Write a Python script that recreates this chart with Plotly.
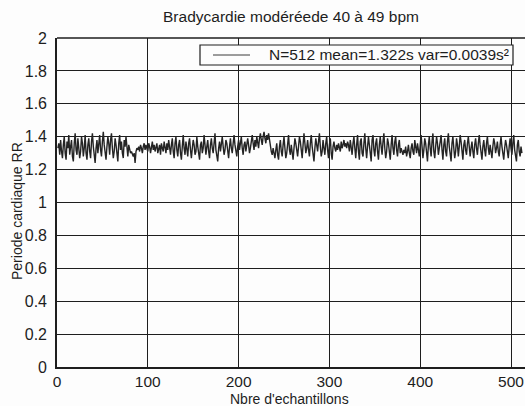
import plotly.graph_objects as go

# RR interval series (seconds), 512 beats, moderate bradycardia recording
rr_values = [
    1.33, 1.36, 1.29, 1.38, 1.31, 1.27, 1.35, 1.40, 1.30, 1.26, 1.37, 1.33, 1.41, 1.29, 1.34, 1.38,
    1.28, 1.25, 1.36, 1.42, 1.32, 1.29, 1.39, 1.34, 1.27, 1.31, 1.40, 1.36, 1.28, 1.33, 1.41, 1.30,
    1.26, 1.35, 1.39, 1.31, 1.27, 1.37, 1.42, 1.34, 1.29, 1.24, 1.33, 1.38, 1.30, 1.36, 1.41, 1.32,
    1.28, 1.37, 1.43, 1.35, 1.30, 1.26, 1.34, 1.40, 1.36, 1.29, 1.38, 1.42, 1.33, 1.27, 1.31, 1.39,
    1.35, 1.28, 1.25, 1.36, 1.41, 1.32, 1.37, 1.30, 1.27, 1.38, 1.34, 1.40, 1.31, 1.28, 1.35, 1.33,
    1.30, 1.31, 1.29, 1.28, 1.30, 1.24, 1.31, 1.33, 1.32, 1.34, 1.31, 1.35, 1.33, 1.30, 1.34, 1.36,
    1.32, 1.35, 1.33, 1.31, 1.36, 1.34, 1.30, 1.33, 1.37, 1.32, 1.35, 1.31, 1.34, 1.36, 1.30, 1.33,
    1.35, 1.29, 1.36, 1.33, 1.31, 1.37, 1.34, 1.30, 1.36, 1.32, 1.38, 1.33, 1.29, 1.35, 1.39, 1.31,
    1.27, 1.36, 1.40, 1.32, 1.28, 1.35, 1.38, 1.30, 1.26, 1.34, 1.41, 1.33, 1.29, 1.37, 1.31, 1.28,
    1.36, 1.39, 1.32, 1.27, 1.33, 1.38, 1.35, 1.29, 1.31, 1.40, 1.34, 1.28, 1.26, 1.35, 1.37, 1.30,
    1.33, 1.41, 1.36, 1.29, 1.34, 1.38, 1.31, 1.27, 1.35, 1.39, 1.33, 1.30, 1.36, 1.42, 1.32, 1.28,
    1.25, 1.33, 1.37, 1.31, 1.35, 1.40, 1.34, 1.29, 1.32, 1.38, 1.36, 1.30, 1.27, 1.34, 1.39, 1.33,
    1.30, 1.36, 1.41, 1.35, 1.31, 1.28, 1.34, 1.38, 1.32, 1.36, 1.40, 1.33, 1.29, 1.35, 1.37, 1.31,
    1.34, 1.39, 1.35, 1.30, 1.33, 1.37, 1.41, 1.36, 1.32, 1.38, 1.34, 1.40, 1.37, 1.33, 1.39, 1.42,
    1.38, 1.35, 1.40, 1.43, 1.39, 1.36, 1.41, 1.38, 1.42, 1.37, 1.34, 1.31, 1.29, 1.33, 1.30, 1.27,
    1.32, 1.36, 1.29, 1.26, 1.34, 1.38, 1.31, 1.28, 1.35, 1.40, 1.33, 1.27, 1.30, 1.37, 1.41, 1.32,
    1.29, 1.35, 1.31, 1.26, 1.33, 1.39, 1.36, 1.30, 1.28, 1.34, 1.40, 1.37, 1.31, 1.27, 1.35, 1.42,
    1.36, 1.30, 1.33, 1.38, 1.32, 1.28, 1.36, 1.41, 1.34, 1.29, 1.25, 1.33, 1.39, 1.35, 1.31, 1.37,
    1.42, 1.34, 1.28, 1.31, 1.38, 1.33, 1.29, 1.36, 1.40, 1.32, 1.27, 1.35, 1.39, 1.30, 1.26, 1.34,
    1.37, 1.33, 1.31, 1.35, 1.32, 1.36, 1.34, 1.31, 1.37, 1.33, 1.35, 1.38, 1.34, 1.36, 1.33, 1.37,
    1.35, 1.31, 1.38, 1.34, 1.29, 1.36, 1.40, 1.33, 1.27, 1.35, 1.41, 1.31, 1.26, 1.37, 1.39, 1.30,
    1.28, 1.36, 1.42, 1.33, 1.27, 1.34, 1.40, 1.35, 1.29, 1.25, 1.38, 1.41, 1.32, 1.28, 1.36, 1.39,
    1.31, 1.26, 1.35, 1.40, 1.34, 1.29, 1.37, 1.42, 1.33, 1.27, 1.31, 1.39, 1.36, 1.30, 1.26, 1.35,
    1.41, 1.33, 1.29, 1.37, 1.40, 1.32, 1.28, 1.35, 1.38, 1.30, 1.33, 1.31, 1.29, 1.32, 1.30, 1.34,
    1.28, 1.31, 1.35, 1.30, 1.27, 1.33, 1.36, 1.31, 1.29, 1.38, 1.34, 1.30, 1.36, 1.32, 1.28, 1.35,
    1.41, 1.34, 1.27, 1.32, 1.39, 1.36, 1.29, 1.25, 1.35, 1.40, 1.33, 1.28, 1.37, 1.42, 1.31, 1.27,
    1.34, 1.40, 1.36, 1.29, 1.33, 1.38, 1.41, 1.32, 1.26, 1.35, 1.39, 1.31, 1.28, 1.37, 1.42, 1.34,
    1.29, 1.25, 1.36, 1.40, 1.33, 1.27, 1.31, 1.39, 1.35, 1.28, 1.34, 1.41, 1.37, 1.30, 1.26, 1.35,
    1.38, 1.32, 1.29, 1.36, 1.40, 1.34, 1.28, 1.33, 1.37, 1.31, 1.27, 1.35, 1.39, 1.33, 1.29, 1.36,
    1.41, 1.35, 1.30, 1.26, 1.34, 1.38, 1.32, 1.28, 1.36, 1.40, 1.33, 1.29, 1.35, 1.31, 1.27, 1.34,
    1.39, 1.36, 1.30, 1.33, 1.37, 1.31, 1.28, 1.35, 1.40, 1.34, 1.29, 1.26, 1.33, 1.38, 1.35, 1.30,
    1.27, 1.34, 1.39, 1.33, 1.29, 1.36, 1.41, 1.32, 1.27, 1.25, 1.35, 1.38, 1.31, 1.28, 1.34, 1.30,
]
sample_index = list(range(1, len(rr_values) + 1))

title_text = "Bradycardie modéréede 40 à 49 bpm"
x_title = "Nbre d'echantillons"
y_title = "Periode cardiaque RR"
legend_label = "N=512 mean=1.322s var=0.0039s²"

x_ticks = [0, 100, 200, 300, 400, 500]
y_ticks = [0, 0.2, 0.4, 0.6, 0.8, 1, 1.2, 1.4, 1.6, 1.8, 2]

ink = "#1e1e1e"
bg = "#fdfdfd"
font_family = "Liberation Sans, Arial, sans-serif"

# plot area in pixels
L, R, T, B = 57, 525, 38, 367
W, H = R - L, B - T


def px_x(p):
    return (p - L) / W


def px_y(p):
    return (B - p) / H


fig = go.Figure()
fig.add_trace(go.Scatter(
    x=sample_index, y=rr_values, mode="lines",
    line=dict(color="#242424", width=1.4),
    name=legend_label, showlegend=False,
))

# boxed legend in the upper right corner
legend_shapes = [
    dict(type="rect", xref="paper", yref="paper",
         x0=px_x(200), x1=px_x(513), y0=px_y(65), y1=px_y(45),
         fillcolor=bg, line=dict(color=ink, width=1.2), layer="above"),
    dict(type="line", xref="paper", yref="paper",
         x0=px_x(213), x1=px_x(250), y0=px_y(55), y1=px_y(55),
         line=dict(color="#3a3a3a", width=1), layer="above"),
]

fig.update_layout(
    width=525, height=406,
    margin=dict(l=L, r=525 - R, t=T, b=406 - B),
    paper_bgcolor=bg, plot_bgcolor=bg,
    font=dict(family=font_family, size=16, color=ink),
    title=dict(text=title_text, x=(291 / 525), xanchor="center",
               y=1 - 17 / 406, yanchor="middle",
               font=dict(size=15.5, color=ink)),
    showlegend=False,
    xaxis=dict(
        range=[0, 515.4], tickvals=x_ticks, ticks="",
        showgrid=True, gridcolor=ink, gridwidth=1.2,
        showline=True, linecolor=ink, linewidth=1.6,
        zeroline=False, mirror=False, ticklabelstandoff=0,
        tickfont=dict(size=15.5),
    ),
    yaxis=dict(
        range=[0, 2], tickvals=y_ticks, ticks="",
        showgrid=True, gridcolor=ink, gridwidth=1.2,
        showline=True, linecolor=ink, linewidth=1.6,
        zeroline=False, ticklabelstandoff=5,
        tickfont=dict(size=16),
    ),
    annotations=[
        dict(text=legend_label, xref="paper", yref="paper",
             x=px_x(511), y=px_y(55), xanchor="right", yanchor="middle",
             showarrow=False, font=dict(size=15.5, color=ink)),
        dict(text=x_title, xref="paper", yref="paper",
             x=px_x(289), y=px_y(399),
             xanchor="center", yanchor="middle", showarrow=False,
             font=dict(size=14, color=ink)),
        dict(text=y_title, xref="paper", yref="paper",
             x=px_x(17), y=px_y(211), textangle=-90,
             xanchor="center", yanchor="middle", showarrow=False,
             font=dict(size=14, color=ink)),
    ],
    shapes=[
        dict(type="line", xref="paper", yref="paper", x0=0, x1=1, y0=1, y1=1,
             line=dict(color=ink, width=1.6)),
    ] + legend_shapes,
)

fig.write_html("out.html")
